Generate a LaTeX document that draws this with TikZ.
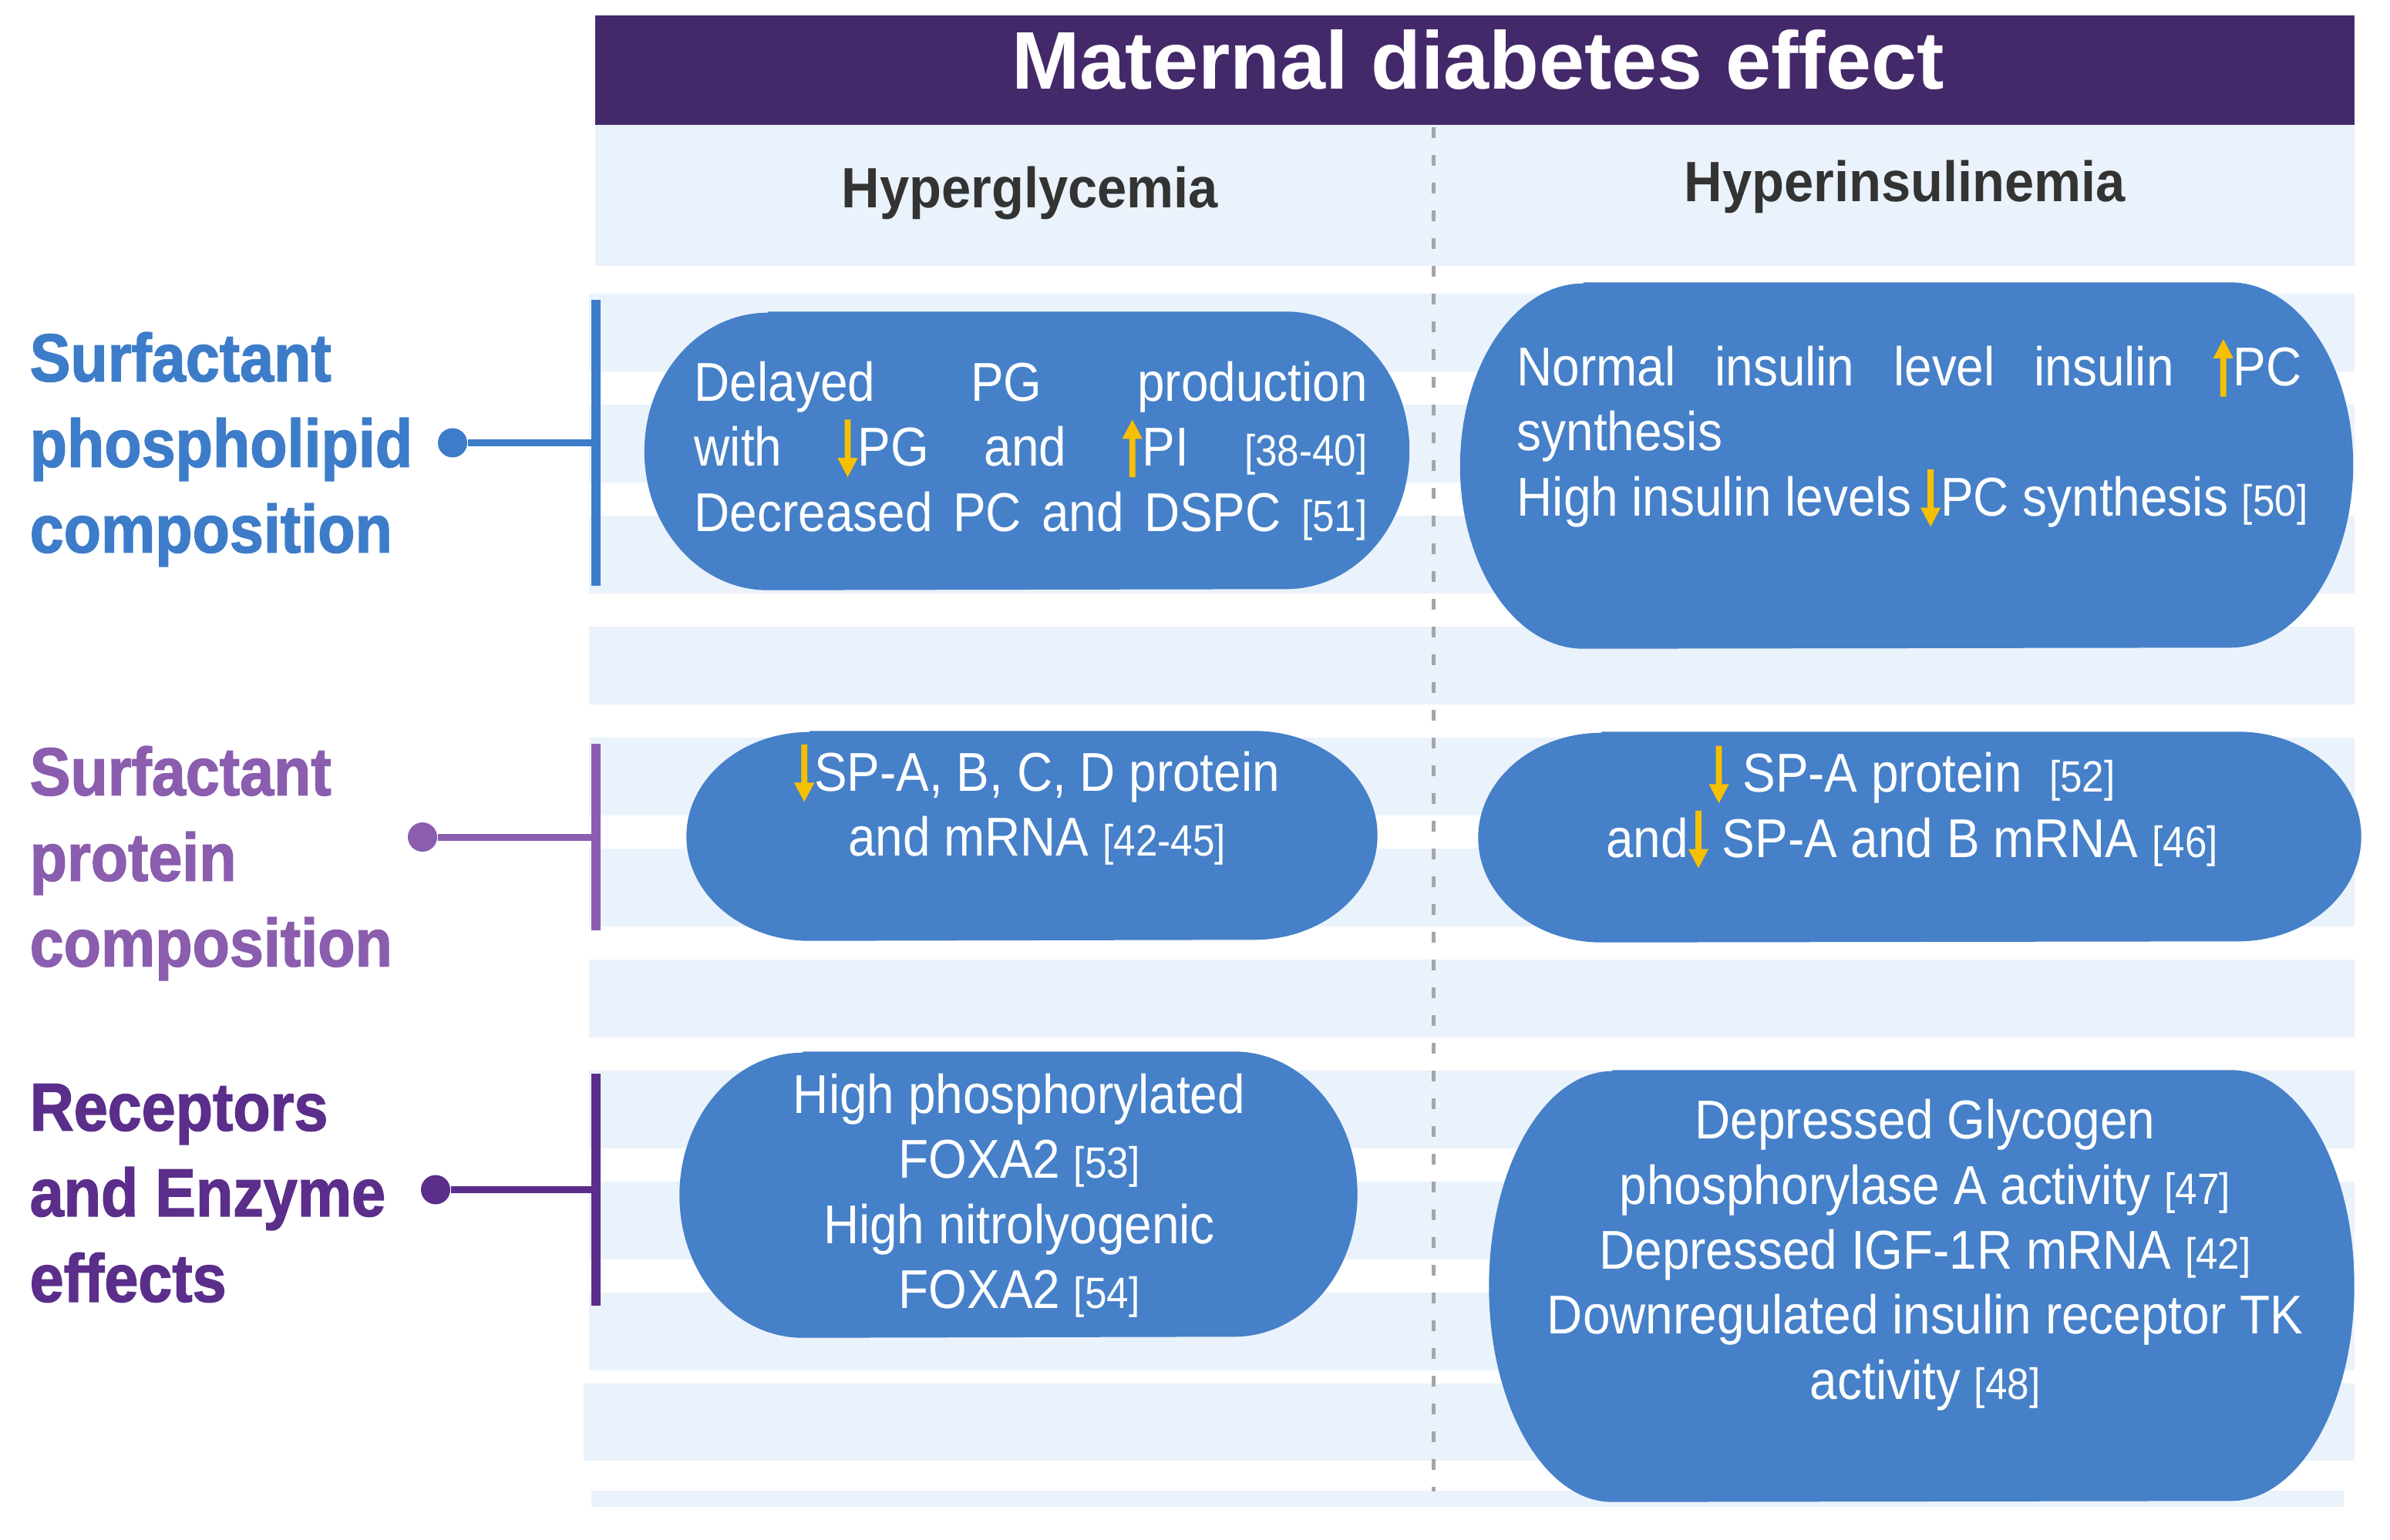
\documentclass[tikz,border=0pt]{standalone}
\usepackage{fontspec}
\setmainfont{Liberation Sans}[FakeStretch=0.9]
\newfontfamily\bannerfont{Liberation Sans}
\newfontfamily\headerfont{Liberation Sans}[FakeStretch=0.93]
\newfontfamily\sidefont{Liberation Sans}[UprightFont=* Bold, FakeStretch=0.9, FakeBold=1.6]

\definecolor{titlepurple}{HTML}{44296A}
\definecolor{stripeblue}{HTML}{EAF2FB}
\definecolor{boxblue}{HTML}{4580C8}
\definecolor{phosblue}{HTML}{3D7CC9}
\definecolor{protpurple}{HTML}{8A5DAE}
\definecolor{recppurple}{HTML}{5A2E8A}
\definecolor{headgray}{HTML}{333333}
\definecolor{dashgray}{HTML}{A6A6A6}
\definecolor{arrowyellow}{HTML}{F6C000}

\newcommand{\bubblefont}{\fontsize{20.2}{24}\selectfont}
\newcommand{\refno}[1]{{\fontsize{16.2}{24}\selectfont[#1]}}
% small yellow arrows inside the text
\newcommand{\uparr}{\tikz[baseline=0pt]\fill[arrowyellow] (-0.055em,-0.2em) -- (0.055em,-0.2em) -- (0.055em,0.5em) -- (0.185em,0.5em) -- (0em,0.85em) -- (-0.185em,0.5em) -- (-0.055em,0.5em) -- cycle;}
\newcommand{\dnarr}{\tikz[baseline=0pt]\fill[arrowyellow] (-0.055em,0.85em) -- (0.055em,0.85em) -- (0.055em,0.15em) -- (0.185em,0.15em) -- (0em,-0.2em) -- (-0.185em,0.15em) -- (-0.055em,0.15em) -- cycle;}

\begin{document}
\begin{tikzpicture}[y=-1cm, every node/.style={inner sep=0pt}]
    \tikzstyle{stripe}=[fill=stripeblue]
    \tikzstyle{box frame}=[rectangle]
    \tikzstyle{box text}=[text=white, font=\bubblefont, align=center]
    \tikzstyle{head}=[text=headgray, font=\headerfont\bfseries\fontsize{21}{25}\selectfont]
    \tikzstyle{side label}=[anchor=west, align=left, font=\sidefont\fontsize{25}{31.6}\selectfont]
    \tikzstyle{dot}=[circle, minimum size=0.38cm]

    \useasboundingbox (0,0) rectangle (31,19.98);

    % Draw the background stripes
    \foreach \i in {0,...,9}
        \fill[stripe] (7.64,{3.81+1.44*\i}) rectangle (30.54,{4.82+1.44*\i});
    \fill[stripe] (7.57,17.95) rectangle (30.54,18.95);
    \fill[stripe] (7.67,19.34) rectangle (30.40,19.55);

    % Title bar and column headers
    \fill[stripe] (7.72,1.62) rectangle (30.54,3.45);
    \fill[titlepurple] (7.72,0.20) rectangle (30.54,1.62);
    \node[text=white, font=\bannerfont\bfseries\fontsize{30.2}{34}\selectfont] (title) at (19.17,0.78) {Maternal diabetes effect};
    \node[head] (hg) at (13.36,2.51) {Hyperglycemia};
    \node[head] (hi) at (24.71,2.42) {Hyperinsulinemia};
    \draw[dashgray, line width=0.05cm, dash pattern=on 0.14cm off 0.22cm] (18.59,1.65) -- (18.59,19.35);

    % Draw the rounded boxes
    \foreach \name/\x/\y/\w/\h in {hg1/13.32/5.85/9.91/3.60, hi1/24.73/6.04/11.57/4.74,
                                 hg2/13.385/10.845/8.95/2.71, hi2/24.90/10.86/11.44/2.72,
                                 hg3/13.21/15.50/8.78/3.70, hi3/24.925/16.685/11.21/5.59}
    {
        \node[box frame, minimum width=\w cm, minimum height=\h cm] (\name) at (\x,\y) {};
        \fill[boxblue] ([xshift=1.6cm]\name.north west) -- ([xshift=-1.6cm]\name.north east)
            arc[start angle=90, end angle=-90, x radius=1.6cm, y radius={\h*0.5cm}]
            -- ([xshift=1.6cm]\name.south west)
            arc[start angle=270, end angle=90, x radius=1.6cm, y radius={\h*0.5cm}] -- cycle;
    }

    % Texts in the boxes
    \node[box text, align=left, anchor=west] (hg1 text) at (9.00,5.85)
        {\makebox[8.73cm][s]{Delayed PG production}\\
         \makebox[8.73cm][s]{with \dnarr PG and \uparr PI \refno{38-40}}\\
         \makebox[8.73cm][s]{Decreased PC and DSPC \refno{51}}};
    \node[box text, align=left, anchor=west] (hi1 text) at (19.67,5.62)
        {\makebox[10.18cm][s]{Normal insulin level insulin \uparr PC}\\
         synthesis\\
         High insulin levels\,\dnarr PC synthesis \refno{50}};
    \node[box text] (hg2 text) at (13.45,10.44) {\dnarr SP-A, B, C, D protein\\and mRNA \refno{42-45}};
    \node[box text] (hi2 text) at (24.80,10.47) {\dnarr\ SP-A protein\ \ \refno{52}\\and\dnarr\ SP-A and B mRNA \refno{46}};
    \node[box text] (hg3 text) at (13.22,15.51) {High phosphorylated\\FOXA2 \refno{53}\\High nitrolyogenic\\FOXA2 \refno{54}};
    \node[box text] (hi3 text) at (24.97,16.28) {Depressed Glycogen\\phosphorylase A activity \refno{47}\\Depressed IGF-1R mRNA \refno{42}\\Downregulated insulin receptor TK\\activity \refno{48}};

    % Side labels with their brackets
    \node[side label, text=phosblue] (phos) at (0.38,5.83) {Surfactant\\phospholipid\\composition};
    \node[side label, text=protpurple] (prot) at (0.38,11.20) {Surfactant\\protein\\composition};
    \node[side label, text=recppurple] (recp) at (0.38,15.48) {Receptors\\and Enzyme\\effects};
    \foreach \name/\col/\dx/\cy/\top/\bot in {phos/phosblue/5.87/5.745/3.89/7.60,
                                            prot/protpurple/5.48/10.86/9.65/12.07,
                                            recp/recppurple/5.65/15.435/13.93/16.94}
    {
        \node[dot, fill=\col] (\name dot) at (\dx,\cy) {};
        \coordinate (\name bar) at (7.73,\cy);
        \coordinate (\name top) at (7.73,\top);
        \coordinate (\name bottom) at (7.73,\bot);
        \draw[\col, line width=0.09cm] (\name dot) -- (\name bar);
        \draw[\col, line width=0.12cm] (\name top) -- (\name bottom);
    }
\end{tikzpicture}
\end{document}
